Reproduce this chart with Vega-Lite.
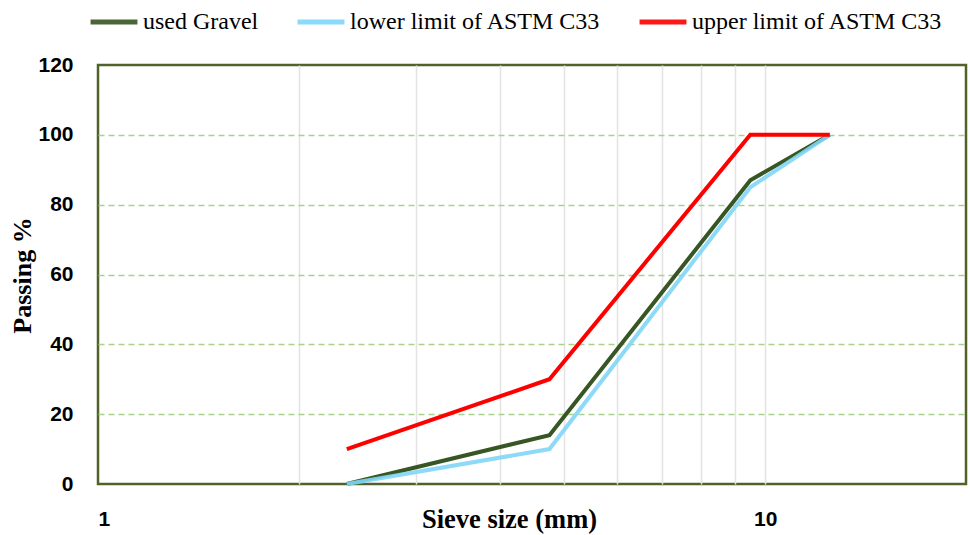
{
  "$schema": "https://vega.github.io/schema/vega-lite/v6.json",
  "width": 868,
  "height": 419,
  "autosize": {"type": "none"},
  "padding": {"left": 98, "top": 65, "right": 4, "bottom": 51},
  "background": "white",
  "config": {
    "view": {"stroke": "#4F6228", "strokeWidth": 2.5}
  },
  "data": {
    "values": [
      {"size": 2.36, "passing": 0, "series": "used Gravel"},
      {"size": 4.75, "passing": 14, "series": "used Gravel"},
      {"size": 9.5, "passing": 87, "series": "used Gravel"},
      {"size": 12.5, "passing": 100, "series": "used Gravel"},
      {"size": 2.36, "passing": 0, "series": "lower limit of ASTM C33"},
      {"size": 4.75, "passing": 10, "series": "lower limit of ASTM C33"},
      {"size": 9.5, "passing": 85, "series": "lower limit of ASTM C33"},
      {"size": 12.5, "passing": 100, "series": "lower limit of ASTM C33"},
      {"size": 2.36, "passing": 10, "series": "upper limit of ASTM C33"},
      {"size": 4.75, "passing": 30, "series": "upper limit of ASTM C33"},
      {"size": 9.5, "passing": 100, "series": "upper limit of ASTM C33"},
      {"size": 12.5, "passing": 100, "series": "upper limit of ASTM C33"}
    ]
  },
  "encoding": {
    "x": {
      "field": "size",
      "type": "quantitative",
      "scale": {"type": "log", "domain": [1, 20], "nice": false},
      "axis": {
        "values": [1, 2, 3, 4, 5, 6, 7, 8, 9, 10, 20],
        "labelExpr": "datum.value == 1 || datum.value == 10 ? datum.label : ''",
        "grid": true,
        "gridColor": "#E3E3E3",
        "gridWidth": 1.5,
        "gridOpacity": {"condition": {"test": "datum.value == 1 || datum.value == 20", "value": 0}, "value": 1},
        "ticks": false,
        "domain": false,
        "labelFont": "Liberation Sans",
        "labelFontWeight": "bold",
        "labelFontSize": 21,
        "labelColor": "black",
        "labelPadding": 24,
        "labelBaseline": "top",
        "title": "Sieve size (mm)",
        "titleFont": "Liberation Serif",
        "titleFontWeight": "bold",
        "titleFontSize": 26.5,
        "titleColor": "black",
        "titleX": 411,
        "titleY": 43,
        "titleAlign": "center",
        "titleBaseline": "alphabetic"
      }
    },
    "y": {
      "field": "passing",
      "type": "quantitative",
      "scale": {"domain": [0, 120], "nice": false},
      "axis": {
        "values": [0, 20, 40, 60, 80, 100, 120],
        "grid": true,
        "gridColor": "#A9D18E",
        "gridDash": [6, 4],
        "gridWidth": 1.5,
        "gridOpacity": {"condition": {"test": "datum.value == 0 || datum.value == 120", "value": 0}, "value": 1},
        "ticks": false,
        "domain": false,
        "labelFont": "Liberation Sans",
        "labelFontWeight": "bold",
        "labelFontSize": 21,
        "labelColor": "black",
        "labelPadding": 25,
        "title": "Passing %",
        "titleFont": "Liberation Serif",
        "titleFontWeight": "bold",
        "titleFontSize": 26,
        "titleColor": "black",
        "titleX": -76,
        "titleY": 210,
        "titleAngle": -90,
        "titleAlign": "center",
        "titleBaseline": "middle"
      }
    },
    "color": {
      "field": "series",
      "type": "nominal",
      "scale": {
        "domain": ["used Gravel", "lower limit of ASTM C33", "upper limit of ASTM C33"],
        "range": ["#375623", "#7FD6F7", "#FF0000"]
      },
      "legend": {
        "title": null,
        "orient": "none",
        "direction": "horizontal",
        "legendX": -10,
        "legendY": -69,
        "symbolType": "stroke",
        "symbolSize": 2200,
        "symbolStrokeWidth": 5,
        "labelFont": "Liberation Serif",
        "labelFontSize": 24,
        "labelColor": "black",
        "labelOffset": 3,
        "columnPadding": 28,
        "labelLimit": 400
      }
    }
  },
  "layer": [
    {
      "transform": [{"filter": "datum.series == 'used Gravel'"}],
      "mark": {"type": "line", "strokeWidth": 4}
    },
    {
      "transform": [{"filter": "datum.series == 'lower limit of ASTM C33'"}],
      "mark": {"type": "line", "strokeWidth": 4, "opacity": 0.9}
    },
    {
      "transform": [{"filter": "datum.series == 'upper limit of ASTM C33'"}],
      "mark": {"type": "line", "strokeWidth": 4}
    }
  ]
}
